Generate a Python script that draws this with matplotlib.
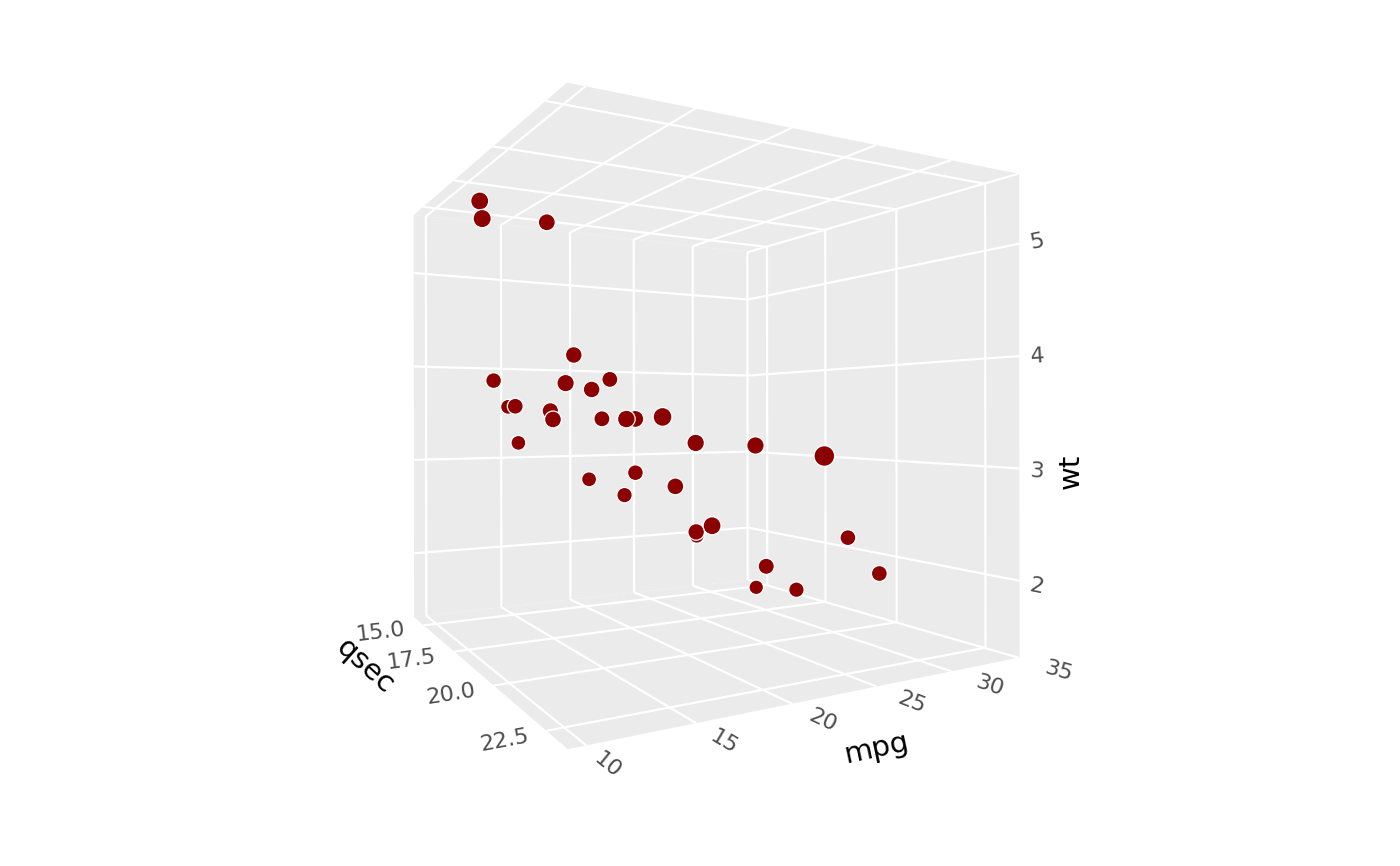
import numpy as np
import matplotlib
matplotlib.use("Agg")
import matplotlib.pyplot as plt
from mpl_toolkits.mplot3d.art3d import Poly3DCollection

# ---- data (mtcars) ----
mpg = [21, 21, 22.8, 21.4, 18.7, 18.1, 14.3, 24.4, 22.8, 19.2, 17.8, 16.4, 17.3, 15.2, 10.4, 10.4,
       14.7, 32.4, 30.4, 33.9, 21.5, 15.5, 15.2, 13.3, 19.2, 27.3, 26, 30.4, 15.8, 19.7, 15, 21.4]
qsec = [16.46, 17.02, 18.61, 19.44, 17.02, 20.22, 15.84, 20, 22.9, 18.3, 18.9, 17.4, 17.6, 18, 17.98, 17.82,
        17.42, 19.47, 18.52, 19.9, 20.01, 16.87, 17.3, 15.41, 17.05, 18.9, 16.7, 16.9, 14.5, 15.5, 14.6, 18.6]
wt = [2.62, 2.875, 2.32, 3.215, 3.44, 3.46, 3.57, 3.19, 3.15, 3.44, 3.44, 4.07, 3.73, 3.78, 5.25, 5.424,
      5.345, 2.2, 1.615, 1.835, 2.465, 3.52, 3.435, 3.84, 3.845, 1.935, 2.14, 1.513, 3.17, 2.77, 3.57, 2.78]

mpg_ticks = [10, 15, 20, 25, 30, 35]
qsec_ticks = [15.0, 17.5, 20.0, 22.5]
wt_ticks = [2, 3, 4, 5]
mpg_lim = (9.225, 35.075)
qsec_lim = (14.08, 23.32)
wt_lim = (1.317, 5.620)

# ---- camera: fitted to where the box sits in the reference (px, y down) ----
m0, m1 = mpg_lim; q0, q1 = qsec_lim; w0, w1 = wt_lim
cal_world = np.array([
    (m0, q0, w0), (m1, q0, w0), (m0, q1, w0), (m1, q1, w0),
    (m0, q0, w1), (m1, q0, w1), (m0, q1, w1), (m1, q1, w1),
    (10, q1, w0), (30, q1, w0), (m1, 17.5, w0), (m1, 22.5, w0),
    (m1, q1, 5), (m1, q1, 2)], float)
cal_px = np.array([
    (414, 616.7), (748, 580), (567.3, 749.3), (1019.3, 656.7),
    (414, 215), (747.7, 252.3), (566.7, 82.7), (1019.3, 174.3),
    (586.7, 746), (951.7, 670.7), (826.7, 601.7), (985, 648.3),
    (1019.7, 243.3), (1019.3, 581)], float)
W, H = 1400, 866


def fit_camera(world, px):
    c = world.mean(0); s = world.std(0)
    Tw = np.eye(4); Tw[:3, :3] = np.diag(1 / s); Tw[:3, 3] = -c / s
    n = (world - c) / s
    cp = px.mean(0); sp = px.std(0)
    u = (px - cp) / sp
    rows = []
    for (x, y, z), (a, b) in zip(n, u):
        rows.append([x, y, z, 1, 0, 0, 0, 0, -a * x, -a * y, -a * z, -a])
        rows.append([0, 0, 0, 0, x, y, z, 1, -b * x, -b * y, -b * z, -b])
    p = np.linalg.svd(np.array(rows))[2][-1].reshape(3, 4)
    Tp = np.array([[sp[0], 0, cp[0]], [0, sp[1], cp[1]], [0, 0, 1]])
    P = Tp @ p @ Tw
    if (P[2] @ np.r_[c, 1]) < 0:
        P = -P
    return P


P = fit_camera(cal_world, cal_px)
flip = np.array([[1, 0, 0], [0, -1, H], [0, 0, 1]], float)

fig = plt.figure(figsize=(14, 8.66), dpi=100, facecolor="white")
ax = fig.add_axes([0, 0, 1, 1], projection="3d", computed_zorder=False)
ax.set_axis_off()


def camera_proj():
    A = ax.transData.inverted().get_matrix()
    Q = A @ flip @ P
    return np.vstack([Q[0], Q[1], np.r_[Q[2, :3], 0.0], Q[2]])


ax.get_proj = camera_proj


def to_px(x, y, z):
    v = P @ np.array([x, y, z, 1.0])
    return v[:2] / v[2]


PANE = "#EBEBEB"
faces = [
    [(m0, q0, w0), (m1, q0, w0), (m1, q1, w0), (m0, q1, w0)],
    [(m0, q0, w1), (m1, q0, w1), (m1, q1, w1), (m0, q1, w1)],
    [(m0, q0, w0), (m1, q0, w0), (m1, q0, w1), (m0, q0, w1)],
    [(m1, q0, w0), (m1, q1, w0), (m1, q1, w1), (m1, q0, w1)],
]
ax.add_collection3d(Poly3DCollection(faces, facecolors=PANE, edgecolors="none", zorder=1))

grid = dict(color="white", lw=1.6, zorder=2, solid_capstyle="butt")
for t in mpg_ticks:
    ax.plot([t, t], [q0, q1], [w0, w0], **grid)
    ax.plot([t, t], [q0, q1], [w1, w1], **grid)
    ax.plot([t, t], [q0, q0], [w0, w1], **grid)
for t in qsec_ticks:
    ax.plot([m0, m1], [t, t], [w0, w0], **grid)
    ax.plot([m0, m1], [t, t], [w1, w1], **grid)
    ax.plot([m1, m1], [t, t], [w0, w1], **grid)
for t in wt_ticks:
    ax.plot([m0, m1], [q0, q0], [t, t], **grid)
    ax.plot([m1, m1], [q0, q1], [t, t], **grid)

# point size follows depth
pts = np.c_[mpg, qsec, wt, np.ones(len(mpg))]
depth = pts @ P[2]
ref = np.array([22.8, 22.9, 3.15, 1]) @ P[2]
lw_pt = 0.9
lw_px = lw_pt * 100 / 72
r_fill = 9.7 * (ref / depth) ** 1.05
sizes = ((2 * r_fill + lw_px) * 0.72) ** 2
ax.scatter(mpg, qsec, wt, s=sizes, c="#8B0000", edgecolors="white", linewidths=lw_pt,
           depthshade=False, zorder=3)


def tick_label(pos, along, s):
    a = to_px(*pos)
    b = to_px(*(np.array(pos) + 0.1 * np.array(along)))
    angle = np.degrees(np.arctan2(-(b[1] - a[1]), b[0] - a[0]))
    fig.text(a[0] / W, 1 - a[1] / H, s, rotation=angle, color="#4D4D4D", fontsize=16,
             ha="center", va="center_baseline", rotation_mode="anchor")


for t, off in zip(mpg_ticks, [0.75, 0.8, 0.8, 0.85, 0.87, 0.9]):
    tick_label((t, q1 + off, w0), (0, 1, 0), str(t))
for t, off in zip(qsec_ticks, [2.6, 2.3, 2.05, 1.8]):
    tick_label((m0 - off, t, w0), (1, 0, 0), f"{t:.1f}")
for t in wt_ticks:
    tick_label((m1, q1 + 0.4, t), (0, 1, 0), str(t))

TITLE = dict(color="black", fontsize=21, ha="center", va="center", rotation_mode="anchor")
fig.text(876 / W, 1 - 748 / H, "mpg", rotation=12, **TITLE)
fig.text(365 / W, 1 - 666 / H, "qsec", rotation=-42, **TITLE)
fig.text(1071 / W, 1 - 471 / H, "wt", rotation=90, **TITLE)

fig.savefig("out.png", dpi=100)
